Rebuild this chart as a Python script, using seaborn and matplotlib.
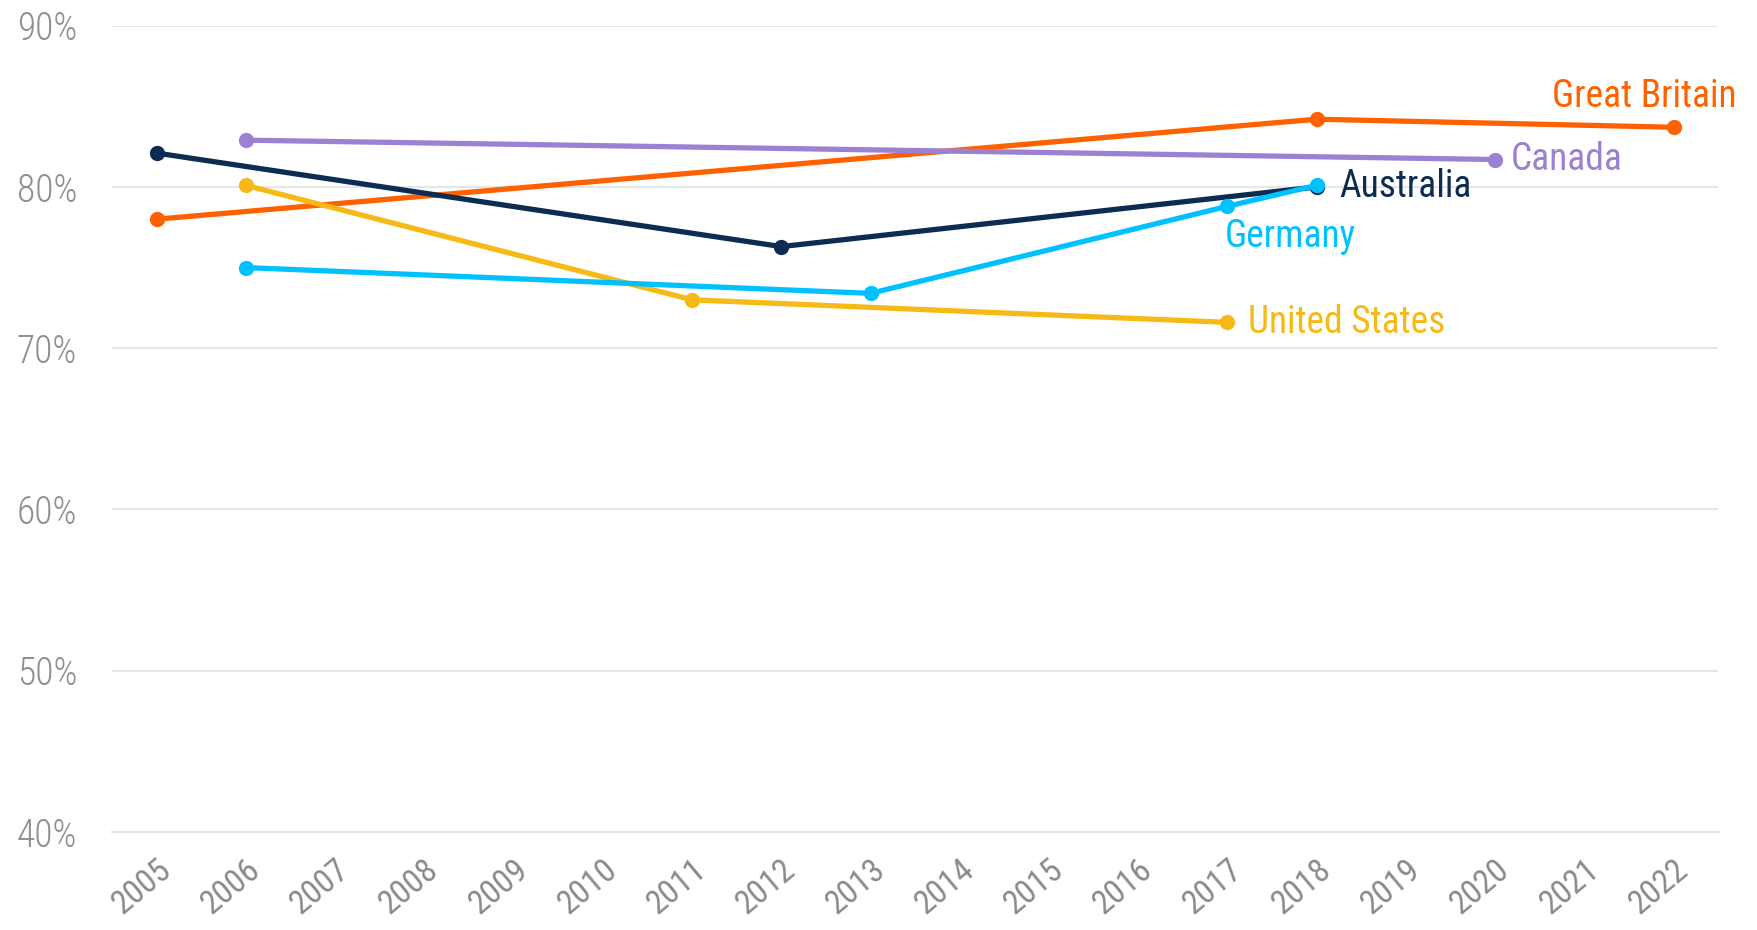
import matplotlib
matplotlib.use("Agg")
from matplotlib import pyplot as plt
from matplotlib.ticker import PercentFormatter
import pandas as pd
import seaborn as sns

sns.set_style("white")
plt.rcParams['font.family'] = ['Roboto Condensed', 'Liberation Sans', 'DejaVu Sans']

# data
gb_years = [2005, 2018, 2022]
gb_vals = [78.0, 84.2, 83.7]
ca_years = [2006, 2020]
ca_vals = [82.9, 81.7]
au_years = [2005, 2012, 2018]
au_vals = [82.1, 76.3, 80.0]
de_years = [2006, 2013, 2017, 2018]
de_vals = [75.0, 73.4, 78.8, 80.1]
us_years = [2006, 2011, 2017]
us_vals = [80.1, 73.0, 71.6]

years = list(range(2005, 2023))
yticks = [40, 50, 60, 70, 80, 90]

colors = {
    'Great Britain': '#FF6100',
    'Canada': '#9C81D3',
    'Australia': '#0C2C52',
    'United States': '#F6B915',
    'Germany': '#00C1FF',
}

frames = []
for name, xs, ys in [('Great Britain', gb_years, gb_vals),
                     ('Canada', ca_years, ca_vals),
                     ('Australia', au_years, au_vals),
                     ('United States', us_years, us_vals),
                     ('Germany', de_years, de_vals)]:
    frames.append(pd.DataFrame({'year': xs, 'share': ys, 'country': name}))
df = pd.concat(frames, ignore_index=True)

fig = plt.figure(figsize=(17.57, 9.30), dpi=100)
ax = fig.add_axes([0.0637, 0.1054, 0.9143, 0.8670])

sns.lineplot(data=df, x='year', y='share', hue='country', palette=colors,
             marker='o', markersize=11, markeredgewidth=0, linewidth=3.8,
             legend=False, ax=ax, zorder=3)

ax.set_xlim(2004.5, 2022.5)
ax.set_ylim(40, 90)
ax.set_xticks(years)
ax.set_xticks([2022.5], minor=True)  # end tick at right edge of the axis
ax.set_yticks(yticks)
ax.yaxis.set_major_formatter(PercentFormatter(decimals=0))
ax.grid(axis='y', color='#e6e6e6', linewidth=1.5)
ax.set_axisbelow(True)
for s in ['top', 'right', 'left']:
    ax.spines[s].set_visible(False)
ax.spines['bottom'].set_color('#e6e6e6')
ax.spines['bottom'].set_linewidth(1.5)
ax.set_xlabel('')
ax.set_ylabel('')

ax.tick_params(axis='y', length=0, pad=25, labelsize=27, labelcolor='#8f8f8f')
ax.tick_params(axis='x', which='both', length=5.5, width=1.2, color='#dcdcdc')
ax.tick_params(axis='x', pad=10, labelsize=24, labelcolor='#8a8a8a',
               labelrotation=40)
plt.setp(ax.get_yticklabels(), fontweight='light')
plt.setp(ax.get_xticklabels(), ha='right', rotation_mode='anchor')

fs = 27
ax.annotate('Great Britain', (gb_years[-1], gb_vals[-1]), xytext=(45, 22),
            textcoords='offset points', ha='right', va='center',
            color=colors['Great Britain'], fontsize=fs, annotation_clip=False)
ax.annotate('Canada', (ca_years[-1], ca_vals[-1]), xytext=(11, 0),
            textcoords='offset points', ha='left', va='center',
            color=colors['Canada'], fontsize=fs)
ax.annotate('Australia', (au_years[-1], au_vals[-1]), xytext=(16, 0),
            textcoords='offset points', ha='left', va='center',
            color=colors['Australia'], fontsize=fs)
ax.annotate('Germany', (de_years[2], de_vals[2]), xytext=(-2, -22),
            textcoords='offset points', ha='left', va='center',
            color=colors['Germany'], fontsize=fs)
ax.annotate('United States', (us_years[-1], us_vals[-1]), xytext=(15, 0),
            textcoords='offset points', ha='left', va='center',
            color=colors['United States'], fontsize=fs)

plt.savefig('out.png', dpi=100)
